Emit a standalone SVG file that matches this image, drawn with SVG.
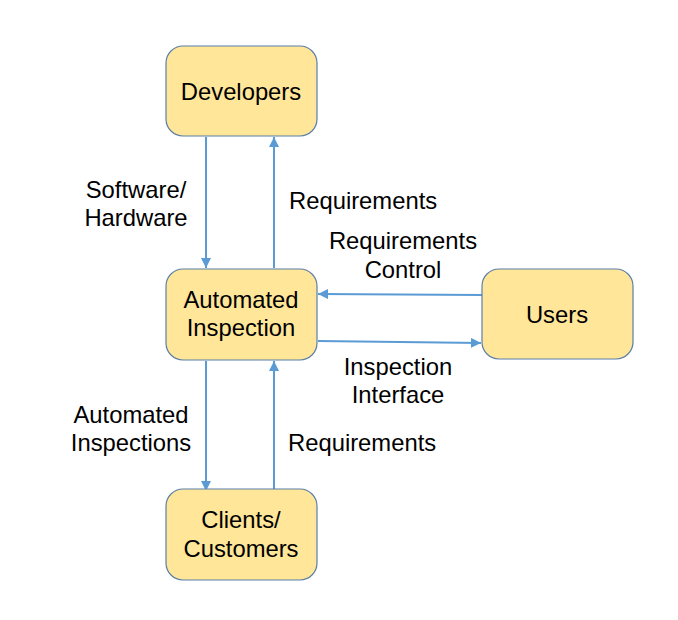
<svg xmlns="http://www.w3.org/2000/svg" width="678" height="620" viewBox="0 0 678 620">
<defs>
<style>
.node{fill:#FFE699;stroke:#5B7FA8;stroke-width:1.2}
.t{font-family:"Liberation Sans",Arial,sans-serif;font-size:23.8px;fill:#000}
.c{text-anchor:middle}
.e{stroke:#5B9BD5;stroke-width:2;fill:none;marker-end:url(#ah)}
</style>
<marker id="ah" viewBox="0 0 10 10" refX="10" refY="5" markerWidth="5" markerHeight="5" orient="auto" markerUnits="strokeWidth">
<path d="M0,0 L10,5 L0,10 z" fill="#5B9BD5"/>
</marker>
</defs>
<rect width="678" height="620" fill="#fff"/>
<g id="connectors">
<line class="e" x1="206" y1="137" x2="206" y2="268"/>
<line class="e" x1="274" y1="268" x2="274" y2="137"/>
<line class="e" x1="482" y1="295" x2="318" y2="294"/>
<line class="e" x1="318" y1="341" x2="481" y2="343"/>
<line class="e" x1="206" y1="361" x2="206" y2="491"/>
<line class="e" x1="274" y1="490" x2="274" y2="361"/>
</g>
<g id="labels">
<text class="t c" x="136" y="198">Software/</text>
<text class="t c" x="136" y="226">Hardware</text>
<text class="t" x="289" y="209">Requirements</text>
<text class="t c" x="403" y="249">Requirements</text>
<text class="t c" x="403" y="278">Control</text>
<text class="t c" x="398" y="375">Inspection</text>
<text class="t c" x="398" y="403">Interface</text>
<text class="t c" x="131" y="423">Automated</text>
<text class="t c" x="131" y="451">Inspections</text>
<text class="t" x="288" y="451">Requirements</text>
</g>
<g id="developers">
<rect class="node" x="166" y="46" width="151" height="90" rx="17"/>
<text class="t c" x="241" y="100">Developers</text>
</g>
<g id="automated-inspection">
<rect class="node" x="166" y="269" width="151" height="91" rx="17"/>
<text class="t c" x="241" y="308">Automated</text>
<text class="t c" x="241" y="336">Inspection</text>
</g>
<g id="users">
<rect class="node" x="482" y="269" width="151" height="90" rx="17"/>
<text class="t c" x="557" y="323">Users</text>
</g>
<g id="clients">
<rect class="node" x="166" y="489" width="151" height="91" rx="17"/>
<text class="t c" x="241" y="528">Clients/</text>
<text class="t c" x="241" y="557">Customers</text>
</g>
</svg>
